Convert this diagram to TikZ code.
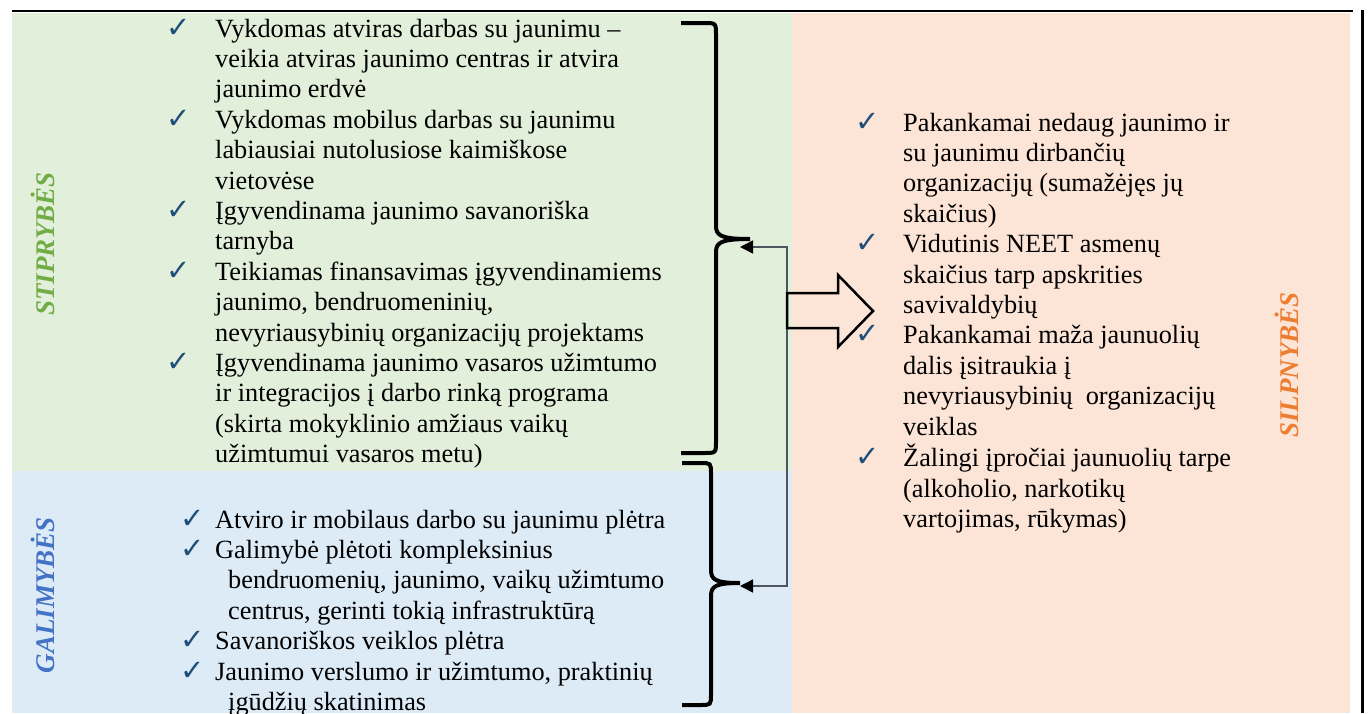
\documentclass[tikz,border=0pt]{standalone}
\usepackage{fontspec}
\setmainfont{Liberation Serif}
\newfontfamily\symfont{DejaVu Sans}
\usetikzlibrary{arrows.meta}

\definecolor{strbg}{HTML}{E2EFDA}
\definecolor{oppbg}{HTML}{DDEBF7}
\definecolor{weakbg}{HTML}{FCE4D6}
\definecolor{strtxt}{HTML}{70AD47}
\definecolor{opptxt}{HTML}{4472C4}
\definecolor{weaktxt}{HTML}{ED7D31}
\definecolor{chkblue}{HTML}{1F4E79}
\definecolor{linkgray}{HTML}{4D5560}

\newcommand{\chk}{{\symfont\fontsize{29}{29}\selectfont\textcolor{chkblue}{✓}}}

\begin{document}
\begin{tikzpicture}[x=1pt, y=-1pt,
    txt/.style={anchor=base west, inner sep=0pt, font=\fontsize{26.3}{30.4}\selectfont},
    lbl/.style={rotate=90, inner sep=0pt, font=\fontsize{27}{30}\selectfont\bfseries\itshape},
    brace/.style={line width=4pt, line cap=butt},
    link/.style={draw=linkgray, line width=1.5pt,
      {Triangle[length=13pt, width=13pt, color=black]}-{Triangle[length=13pt, width=13pt, color=black]}}]
  \useasboundingbox (0,0) rectangle (1368,713);
  % background panels
  \fill[strbg] (12,13) rectangle (792,471);
  \fill[oppbg] (12,471) rectangle (792,713);
  \fill[weakbg] (792,13) rectangle (1350,713);
  \draw[line width=2.5pt] (12,11) -- (1353,11);
  \draw[line width=3pt] (1362,10) -- (1362,713);

  \node[lbl, text=strtxt] (strlbl) at (43,244) {STIPRYBĖS};
  \node[lbl, text=opptxt] (opplbl) at (43,595) {GALIMYBĖS};
  \node[lbl, text=weaktxt] (weaklbl) at (1287,365) {SILPNYBĖS};

  \node[txt] (strlist) at (166,37) {\begin{tabular}[t]{@{}p{49pt}@{}l@{}}
    \chk & Vykdomas atviras darbas su jaunimu –\\
         & veikia atviras jaunimo centras ir atvira\\
         & jaunimo erdvė\\
    \chk & Vykdomas mobilus darbas su jaunimu\\
         & labiausiai nutolusiose kaimiškose\\
         & vietovėse\\
    \chk & Įgyvendinama jaunimo savanoriška\\
         & tarnyba\\
    \chk & Teikiamas finansavimas įgyvendinamiems\\
         & jaunimo, bendruomeninių,\\
         & nevyriausybinių organizacijų projektams\\
    \chk & Įgyvendinama jaunimo vasaros užimtumo\\
         & ir integracijos į darbo rinką programa\\
         & (skirta mokyklinio amžiaus vaikų\\
         & užimtumui vasaros metu)
  \end{tabular}};

  \node[txt] (opplist) at (180,528) {\begin{tabular}[t]{@{}p{35pt}@{}l@{}}
    \chk & Atviro ir mobilaus darbo su jaunimu plėtra\\
    \chk & Galimybė plėtoti kompleksinius\\
         & \hspace*{13pt}bendruomenių, jaunimo, vaikų užimtumo\\
         & \hspace*{13pt}centrus, gerinti tokią infrastruktūrą\\
    \chk & Savanoriškos veiklos plėtra\\
    \chk & Jaunimo verslumo ir užimtumo, praktinių\\
         & \hspace*{13pt}įgūdžių skatinimas
  \end{tabular}};

  \node[txt] (weaklist) at (855,131) {\begin{tabular}[t]{@{}p{48pt}@{}l@{}}
    \chk & Pakankamai nedaug jaunimo ir\\
         & su jaunimu dirbančių\\
         & organizacijų (sumažėjęs jų\\
         & skaičius)\\
    \chk & Vidutinis NEET asmenų\\
         & skaičius tarp apskrities\\
         & savivaldybių\\
    \chk & Pakankamai maža jaunuolių\\
         & dalis įsitraukia į\\
         & nevyriausybinių~ organizacijų\\
         & veiklas\\
    \chk & Žalingi įpročiai jaunuolių tarpe\\
         & (alkoholio, narkotikų\\
         & vartojimas, rūkymas)
  \end{tabular}};

  % braces
  \draw[brace] (681,23) -- (704,23) .. controls (716,23) .. (716,35) -- (716,226)
    .. controls (716,236) and (722,239) .. (750,239)
    .. controls (722,239) and (716,242) .. (716,252) -- (716,441)
    .. controls (716,453) .. (704,453) -- (681,453);
  \draw[brace] (682,463) -- (700,463) .. controls (711,463) .. (711,474) -- (711,570)
    .. controls (711,580) and (716,583) .. (740,583)
    .. controls (716,583) and (711,586) .. (711,596) -- (711,694)
    .. controls (711,705) .. (700,705) -- (682,705);

  \coordinate (strtip) at (740,247);
  \coordinate (opptip) at (740,586);
  \coordinate (linkmid) at (787,416);
  \draw[link] (strtip) -| (linkmid) |- (opptip);

  % block arrow
  \draw[line width=2.5pt, line join=miter] (787,293) -- (838,293) -- (838,275) -- (873,311)
    -- (838,347) -- (838,328) -- (787,328) -- cycle;
\end{tikzpicture}
\end{document}
